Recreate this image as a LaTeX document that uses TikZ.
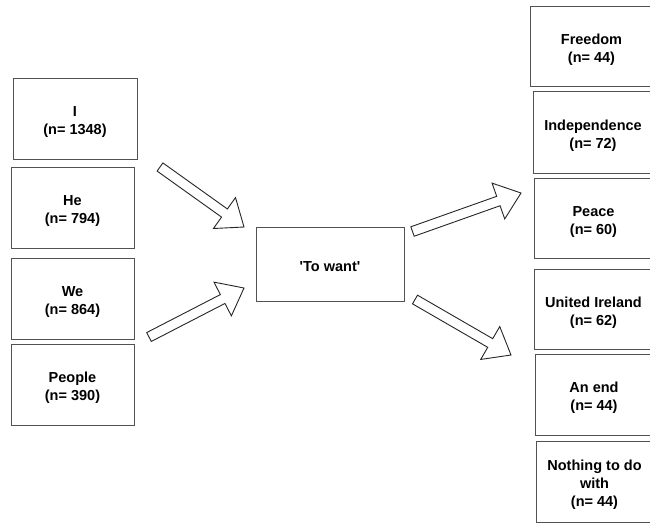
\documentclass[tikz,border=0pt]{standalone}
\usepackage{fontspec}
\setmainfont{Liberation Sans}
\usetikzlibrary{calc}

% hollow block arrow from coordinate #1 (tail) to coordinate #2 (tip)
\newcommand\blockarrow[2]{%
  \coordinate (#1-#2-h) at ($(#2)!24pt!(#1)$);
  \draw[hollowarrow]
    ($(#1)!5pt!90:(#2)$) -- ($(#1-#2-h)!5pt!90:(#2)$) --
    ($(#1-#2-h)!19pt!90:(#2)$) -- (#2) --
    ($(#1-#2-h)!19pt!-90:(#2)$) -- ($(#1-#2-h)!5pt!-90:(#2)$) --
    ($(#1)!5pt!-90:(#2)$) -- cycle;}

% centred lines of box text, set a little low in the box
\newcommand\boxtext[1]{\raisebox{-3.5pt}[\height][\depth]{%
  \begin{tabular}{@{}c@{}}#1\end{tabular}}}

\begin{document}
\begin{tikzpicture}[x=1pt,y=-1pt,
  box/.style={draw=black!68, line width=1pt, fill=white, align=center,
    inner sep=0pt, font=\fontsize{14.5}{18}\selectfont\bfseries},
  hollowarrow/.style={draw=black!85, line width=0.9pt, fill=white, line join=miter}]
\useasboundingbox (0,0) rectangle (650,523);
\clip (0,0) rectangle (650,523);

% left column: subjects
\node[box, minimum width=124pt, minimum height=81pt] (i) at (75,118.5) {\boxtext{I\\(n= 1348)}};
\node[box, minimum width=123pt, minimum height=81pt] (he) at (72.5,207.5) {\boxtext{He\\(n= 794)}};
\node[box, minimum width=123pt, minimum height=81pt] (we) at (72.5,298.5) {\boxtext{We\\(n= 864)}};
\node[box, minimum width=123pt, minimum height=81pt] (people) at (72.5,384.5) {\boxtext{People\\(n= 390)}};

% centre: the verb
\node[box, minimum width=148pt, minimum height=74pt] (want) at (330,264)
  {\boxtext{\textquotesingle To want\textquotesingle}};

% right column: objects
\node[box, minimum width=123pt, minimum height=80pt] (freedom) at (591.5,46) {\boxtext{Freedom\\(n= 44)}};
\node[box, minimum width=120pt, minimum height=82pt] (indep) at (593,132) {\boxtext{Independence\\(n= 72)}};
\node[box, minimum width=119pt, minimum height=80pt] (peace) at (593.5,218) {\boxtext{Peace\\(n= 60)}};
\node[box, minimum width=119pt, minimum height=80pt] (ireland) at (593.5,309) {\boxtext{United Ireland\\(n= 62)}};
\node[box, minimum width=118pt, minimum height=81pt] (anend) at (594,394.5) {\boxtext{An end\\(n= 44)}};
\node[box, minimum width=117pt, minimum height=81pt] (nothing) at (594.5,481.5) {\boxtext{Nothing to do\\with\\(n= 44)}};

% arrow ends
\coordinate (a1t) at (160,167);   \coordinate (a1h) at (244,227);
\coordinate (a2t) at (149,337);   \coordinate (a2h) at (244,288);
\coordinate (a3t) at (412.5,231.5); \coordinate (a3h) at (521,193);
\coordinate (a4t) at (415,299.5); \coordinate (a4h) at (511,355);

\blockarrow{a1t}{a1h}
\blockarrow{a2t}{a2h}
\blockarrow{a3t}{a3h}
\blockarrow{a4t}{a4h}
\end{tikzpicture}
\end{document}
